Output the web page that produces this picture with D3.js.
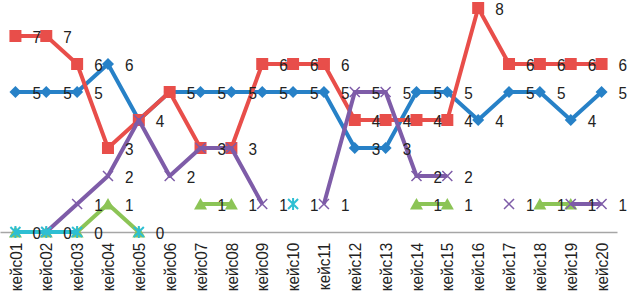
<!DOCTYPE html>
<html>
<head>
<meta charset="utf-8">
<script src="https://cdn.jsdelivr.net/npm/d3@7"></script>
<style>
body { margin: 0; background: #fff; }
text { font-family: "Liberation Sans", Arial, sans-serif; fill: #222; }
</style>
</head>
<body>
<div class="content"></div>
<script>
var size = {width: 628, height: 297};
var padding = {left: 0, right: 11, top: 8, bottom: 65};

var categories = ["кейс01","кейс02","кейс03","кейс04","кейс05","кейс06","кейс07","кейс08","кейс09","кейс10",
                  "кейс11","кейс12","кейс13","кейс14","кейс15","кейс16","кейс17","кейс18","кейс19","кейс20"];
var blueVals   = [5,5,5,6,4,5,5,5,5,5,5,3,3,5,5,4,5,5,4,5];
var redVals    = [7,7,6,3,4,5,3,3,6,6,6,4,4,4,4,8,6,6,6,6];
var greenVals  = [0,0,0,1,0,null,1,1,null,null,null,null,null,1,1,null,null,1,1,null];
var purpleVals = [null,0,1,2,4,2,3,3,1,null,1,5,5,2,2,null,1,null,1,1];
var cyanVals   = [0,0,0,null,0,null,null,null,null,1,null,null,null,null,null,null,null,null,null,null];
var yDomain = [0, 8];

// series in drawing order (later ones on top)
var series = [
    {name: "blue",   values: blueVals,   color: "#2781c7", marker: "diamond"},
    {name: "red",    values: redVals,    color: "#e84e4a", marker: "square"},
    {name: "green",  values: greenVals,  color: "#8cc456", marker: "triangle"},
    {name: "purple", values: purpleVals, color: "#7e5ca8", marker: "cross"},
    {name: "cyan",   values: cyanVals,   color: "#2ebfd3", marker: "star"}
];

var chart = d3.select('.content')
    .append('svg')
    .attr('width', size.width)
    .attr('height', size.height);

var xScale = d3.scaleBand()
    .domain(categories)
    .range([padding.left, size.width - padding.right]);
var yScale = d3.scaleLinear()
    .domain(yDomain)
    .range([size.height - padding.bottom, padding.top]);

function cx(i) { return xScale(categories[i]) + xScale.bandwidth() / 2; }

// category axis: plain gray line, rotated labels
var xAxis = d3.axisBottom(xScale).tickSize(0).tickPadding(0);
var xAxisObj = chart.append('g')
    .attr("transform", "translate(0," + yScale(0) + ")")
    .call(xAxis);
xAxisObj.select(".domain").attr("stroke", "#a6a6a6").attr("stroke-width", 1.3);
xAxisObj.selectAll(".tick text")
    .attr("transform", "rotate(-90) scale(0.9,1)")
    .attr("text-anchor", "end")
    .attr("x", -12)
    .attr("y", 0)
    .attr("dy", "0.36em")
    .style("font-size", "17px")
    .style("font-family", '"Liberation Sans", Arial, sans-serif')
    .attr("fill", "#222");

var line = d3.line()
    .defined(function(d) { return d.v != null; })
    .x(function(d) { return cx(d.i); })
    .y(function(d) { return yScale(d.v); });

function points(s) {
    return s.values.map(function(v, i) { return {v: v, i: i}; });
}

function drawMarker(g, type, color) {
    if (type == "diamond") {
        g.append("path").attr("d", "M0,-6L6,0L0,6L-6,0Z").attr("fill", color);
    } else if (type == "square") {
        g.append("rect").attr("x", -6).attr("y", -6).attr("width", 12).attr("height", 12).attr("fill", color);
    } else if (type == "triangle") {
        g.append("path").attr("d", "M0,-6L6.5,5.5L-6.5,5.5Z").attr("fill", color);
    } else if (type == "cross") {
        g.append("path").attr("d", "M-5,-5L5,5M-5,5L5,-5").attr("stroke", color).attr("stroke-width", 1.5);
    } else {
        g.append("path").attr("d", "M-5,-5L5,5M-5,5L5,-5M0,-6L0,6").attr("stroke", color).attr("stroke-width", 2);
    }
}

var plot = chart.append('g').attr('class', 'plot');
series.forEach(function(s) {
    var g = plot.append("g").attr("class", "series " + s.name);
    g.append("path")
        .datum(points(s))
        .attr("fill", "none")
        .attr("stroke", s.color)
        .attr("stroke-width", 4)
        .attr("stroke-linejoin", "round")
        .attr("d", line);
    g.selectAll("g.mk")
        .data(points(s).filter(function(d) { return d.v != null; }))
        .enter().append("g")
        .attr("class", "mk")
        .attr("transform", function(d) { return "translate(" + cx(d.i) + "," + yScale(d.v) + ")"; })
        .each(function() { drawMarker(d3.select(this), s.marker, s.color); });
});

// data labels sit on top of all series; identical labels at the same spot drawn once
var seen = {};
var labelData = [];
series.forEach(function(s) {
    points(s).forEach(function(d) {
        if (d.v == null) return;
        var key = d.i + ":" + d.v;
        if (seen[key]) return;
        seen[key] = true;
        labelData.push(d);
    });
});
chart.append('g').attr('class', 'labels')
    .selectAll("text")
    .data(labelData)
    .enter().append("text")
    .attr("transform", function(d) {
        return "translate(" + (cx(d.i) + 17) + "," + (yScale(d.v) + 1) + ") scale(0.9,1)";
    })
    .attr("dy", "0.36em")
    .style("font-size", "17px")
    .text(function(d) { return d.v; });
</script>
</body>
</html>
